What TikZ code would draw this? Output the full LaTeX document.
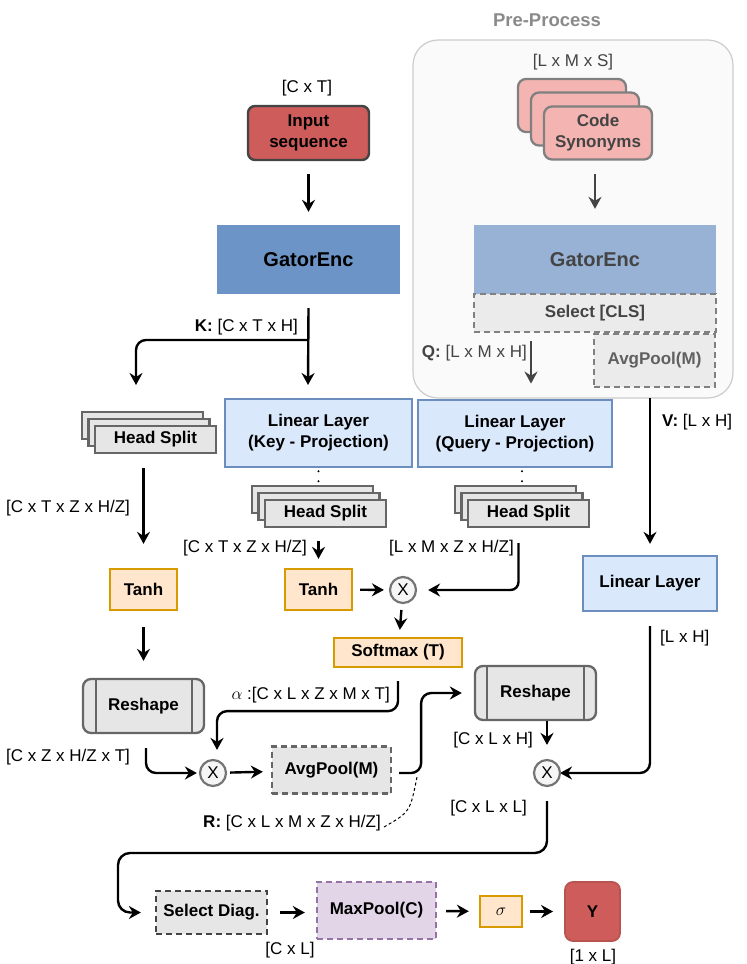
\documentclass[tikz,border=0pt]{standalone}
\usepackage{fontspec}
\setmainfont{Liberation Sans}
\usetikzlibrary{arrows.meta,calc}
\definecolor{cred}{HTML}{CD5C5A}
\definecolor{credb}{HTML}{B85450}
\definecolor{cgeL}{HTML}{6D94C6}
\definecolor{cgeR}{HTML}{98B2D6}
\definecolor{cllf}{HTML}{DAE8FC}
\definecolor{clld}{HTML}{6C8EBF}
\definecolor{corf}{HTML}{FFE6CC}
\definecolor{cord}{HTML}{D79B00}
\definecolor{cgrf}{HTML}{E6E6E6}
\definecolor{cgrd}{HTML}{666666}
\definecolor{cpuf}{HTML}{E1D5E7}
\definecolor{cpud}{HTML}{9673A6}
\definecolor{cppf}{HTML}{FAFAFA}
\definecolor{cppd}{HTML}{CCCCCC}
\definecolor{cdk}{HTML}{444444}
\definecolor{ctit}{HTML}{8A8A8A}
\definecolor{cpink}{HTML}{F4B4B2}
\definecolor{cpinkd}{HTML}{808080}
\definecolor{cselp}{HTML}{EBEBEB}
\definecolor{cxf}{HTML}{F5F5F5}
\begin{document}
\begin{tikzpicture}[x=1pt,y=-1pt,
  base/.style={font=\fontsize{17}{21}\selectfont, inner sep=0pt, align=center},
  lbl/.style={base},
  bx/.style={base, font=\fontsize{17}{21}\selectfont\bfseries, line width=2.3pt},
  bluebox/.style={bx, draw=clld, fill=cllf},
  orbox/.style={bx, draw=cord, fill=corf},
  grbox/.style={bx, draw=cgrd, fill=cgrf},
  dashbox/.style={bx, dash pattern=on 6pt off 4pt},
  hsbox/.style={grbox, minimum width=121, minimum height=27},
  csbox/.style={bx, draw=cpinkd, fill=cpink, text=cdk, rounded corners=8pt, minimum width=108, minimum height=53},
  rsbox/.style={grbox, rounded corners=8pt, minimum width=121, minimum height=54},
  xc/.style={base, circle, draw=cgrd!90!white, fill=cxf, line width=2.2pt, minimum size=26},
  arr/.style={draw=black, line width=2.4pt, -{Stealth[length=12pt,width=13pt,inset=4pt]}},
  arrg/.style={arr, draw=cdk},
  dotl/.style={draw=black, line width=2.2pt, line cap=round, dash pattern=on 0pt off 10pt}
]
\useasboundingbox (0,0) rectangle (747,964);

% ---------- pre-process panel ----------
\node[draw=cppd, fill=cppf, line width=1.2pt, rounded corners=25pt, minimum width=320, minimum height=358, inner sep=0pt] (pp) at (573,219) {};
\node[base, font=\fontsize{18.5}{22}\selectfont\bfseries, text=ctit] (pptitle) at (547,20) {Pre-Process};
\node[lbl, text=cdk] (lms) at (573,62) {[L x M x S]};
\node[csbox] (cs3) at (572,105.5) {};
\node[csbox] (cs2) at (585,119) {};
\node[csbox] (cs1) at (598,133) {Code\\Synonyms};
\node[bx, fill=cgeR, text=cdk, minimum width=242, minimum height=69, font=\fontsize{20}{24}\selectfont\bfseries] (geR) at (595,259.5) {GatorEnc};
\node[dashbox, draw=cpinkd, fill=cselp, text=cdk, minimum width=242, minimum height=38] (sel) at (595,313) {Select [CLS]};
\node[dashbox, draw=cpinkd, fill=cselp, text=cdk!85!white, minimum width=121, minimum height=53] (apP) at (654.5,360.5) {AvgPool(M)};
\draw[arrg, shorten <=13pt, shorten >=15pt] (cs1.south -| geR.north) -- (geR.north);
\draw[arrg] ([xshift=-64pt,yshift=-8pt]sel.south) -- ([xshift=-64pt,yshift=15pt]sel.south |- pp.south);
\node[lbl, anchor=east, text=cdk] (qlbl) at (527,353) {\textbf{Q:} [L x M x H]};

% ---------- left column top ----------
\node[lbl] (ct) at (307,88) {[C x T]};
\node[bx, draw=cdk, fill=cred, line width=2.4pt, rounded corners=7pt, minimum width=121, minimum height=54] (inp) at (308.5,133) {Input\\sequence};
\node[bx, fill=cgeL, minimum width=183, minimum height=69, font=\fontsize{20}{24}\selectfont\bfseries] (geL) at (308.5,259.5) {GatorEnc};
\draw[arr, shorten <=13pt, shorten >=12pt] (inp) -- (geL);
\coordinate (kb) at (308,340);
\coordinate (kl) at (136,340);
\draw[arr] ([yshift=-13pt]geL.south) -- (308,385);
\draw[arr, rounded corners=10pt] (kb) -- (kl) -- ++(0,45);
\node[lbl, anchor=east] (klbl) at (298,327) {\textbf{K:} [C x T x H]};

% ---------- linear layers ----------
\node[bluebox, minimum width=187, minimum height=68] (llk) at (318.5,433) {Linear Layer\\(Key - Projection)};
\node[bluebox, minimum width=194, minimum height=67] (llq) at (515,433.5) {Linear Layer\\(Query - Projection)};
\node[bluebox, minimum width=134, minimum height=55] (llv) at (650,583.5) {Linear Layer};
\draw[dotl] ([yshift=-3pt]llk.south) -- (318.5,500);
\draw[dotl] ([xshift=7pt,yshift=-3pt]llq.south) -- (522,500);

% V
\draw[arr] ([yshift=-10pt]apP.south -| llv.north) -- ([yshift=11pt]llv.north);
\node[lbl, anchor=west] (vlbl) at (662,422) {\textbf{V:} [L x H]};

% ---------- head splits ----------
\node[hsbox] (hsL3) at (142.5,425.5) {};
\node[hsbox] (hsL2) at (149,432.5) {};
\node[hsbox] (hsL) at (155.5,439.5) {Head Split};
\node[hsbox] (hsK3) at (312.5,499.5) {};
\node[hsbox] (hsK2) at (319,506.5) {};
\node[hsbox] (hsK) at (325.5,513.5) {Head Split};
\node[hsbox] (hsQ3) at (515.5,499.5) {};
\node[hsbox] (hsQ2) at (522,506.5) {};
\node[hsbox] (hsQ) at (528.5,513.5) {Head Split};

% ---------- tanh / softmax ----------
\node[orbox, minimum width=67, minimum height=41] (tanhL) at (143.5,589.5) {Tanh};
\node[orbox, minimum width=67, minimum height=41] (tanhM) at (318.5,589.5) {Tanh};
\node[xc] (x3) at (403,590) {X};
\node[orbox, minimum width=128, minimum height=29] (sm) at (398,652.5) {Softmax (T)};

\draw[arr] ([yshift=-14pt]hsL.south -| tanhL.north) -- ([yshift=24pt]tanhL.north);
\node[lbl, anchor=west] (l1) at (6,508) {[C x T x Z x H/Z]};
\draw[arr] ([yshift=-13pt]hsK.south -| tanhM.north) -- ([yshift=9pt]tanhM.north);
\node[lbl, anchor=east] (l2) at (307,548) {[C x T x Z x H/Z]};
\draw[arr, rounded corners=8pt] ([xshift=-10pt,yshift=-15pt]hsQ.south) |- ([xshift=11pt]x3.east);
\node[lbl, anchor=east] (l3) at (514,548) {[L x M x Z x H/Z]};
\draw[arr, shorten <=7pt, shorten >=5pt] (tanhM) -- (x3);
\draw[arr, shorten <=6pt, shorten >=7pt] (x3) -- (sm);
\draw[arr, rounded corners=10pt] ([yshift=-14pt]llv.south) |- ([xshift=13pt]547,773);
\node[lbl, anchor=west] (l4) at (660,638) {[L x H]};

% ---------- reshape row ----------
\node[rsbox] (rsL) at (143.5,706) {Reshape};
\draw[cgrd, line width=2.3pt] ([xshift=14pt]rsL.north west) -- ([xshift=14pt]rsL.south west);
\draw[cgrd, line width=2.3pt] ([xshift=-13pt]rsL.north east) -- ([xshift=-13pt]rsL.south east);
\node[rsbox] (rsR) at (535.5,693) {Reshape};
\draw[cgrd, line width=2.3pt] ([xshift=13pt]rsR.north west) -- ([xshift=13pt]rsR.south west);
\draw[cgrd, line width=2.3pt] ([xshift=-13pt]rsR.north east) -- ([xshift=-13pt]rsR.south east);
\draw[arr] ([yshift=-16pt]tanhL.south) -- ([yshift=17pt]rsL.north);

\node[xc] (x1) at (213,773) {X};
\node[xc] (x2) at (547,773) {X};
\node[dashbox, draw=cgrd, fill=cgrf, minimum width=119, minimum height=47] (ap1) at (331.5,770) {AvgPool(M)};

\draw[arr, rounded corners=10pt] ([xshift=2.5pt,yshift=-14pt]rsL.south) |- ([xshift=-2pt]x1.west);
\node[lbl, anchor=west] (l5) at (6,757) {[C x Z x H/Z x T]};
\draw[arr, rounded corners=10pt] ([yshift=-13pt]sm.south) -- ++(0,30) -| ([xshift=4pt,yshift=9pt]x1.north);
\node[lbl, anchor=east] (l6) at (390,695) {$\alpha$ :[C x L x Z x M x T]};
\draw[arr, shorten <=3pt, shorten >=8pt] (x1) -- (ap1);
\draw[arr, rounded corners=10pt] ([xshift=7pt]ap1.east |- x1) -- ++(22,0) |- ([xshift=-12pt]rsR.west);
\draw[arr] (rsR.south -| x2.north) -- ([yshift=14pt]x2.north);
\node[lbl, anchor=east] (l7) at (533,740) {[C x L x H]};
\node[lbl, anchor=east] (rlbl) at (381,823) {\textbf{R:} [C x L x M x Z x H/Z]};
\coordinate (rc) at (417,777);
\draw[black, line width=1pt, dash pattern=on 3pt off 2.5pt] ([xshift=3pt,yshift=-4pt]rlbl.east) .. controls (410,812) .. (rc);
\node[lbl, anchor=east] (l8) at (527,808) {[C x L x L]};

% ---------- bottom row ----------
\node[dashbox, draw=cdk, fill=cgrf, minimum width=111, minimum height=43] (seld) at (211.5,912.5) {Select Diag.};
\node[dashbox, draw=cpud, fill=cpuf, minimum width=119, minimum height=57] (mp) at (376.5,910.5) {MaxPool(C)};
\node[orbox, minimum width=42, minimum height=31, font=\fontsize{18}{21}\selectfont] (sg) at (501,911.5) {$\sigma$};
\node[bx, draw=credb, fill=cred, line width=1.8pt, rounded corners=8pt, minimum width=55, minimum height=59] (yy) at (592.5,911.5) {Y};
\coordinate (c1) at (118,853);
\draw[arr, rounded corners=12pt] ([yshift=-14pt]x2.south) |- (c1) |- ([xshift=-14pt]seld.west);
\draw[arr, shorten <=12pt, shorten >=11pt] (seld.east) -- (mp.west |- seld.east);
\draw[arr, shorten <=9pt, shorten >=10pt] (mp) -- (sg);
\draw[arr, shorten <=7pt, shorten >=11pt] (sg) -- (yy);
\node[lbl] (l9) at (290,950) {[C x L]};
\node[lbl] (l10) at (593,957) {[1 x L]};
\end{tikzpicture}
\end{document}
